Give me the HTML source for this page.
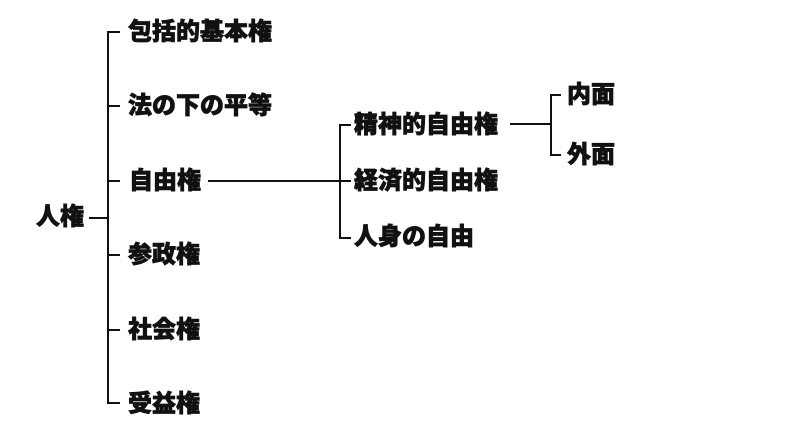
<!DOCTYPE html>
<html>
<head>
<meta charset="utf-8">
<style>
html,body{margin:0;padding:0;background:#fff;}
svg{display:block;}
text{font-family:"Liberation Sans","Noto Sans CJK JP","Noto Sans CJK SC",sans-serif;font-weight:900;font-size:24px;fill:#111;stroke:#111;stroke-width:0.7px;dominant-baseline:central;}
</style>
</head>
<body>
<svg width="800" height="442" viewBox="0 0 800 442" xmlns="http://www.w3.org/2000/svg">
<g stroke="#111" stroke-width="2" fill="none">
  <!-- root -->
  <line x1="89" y1="218" x2="108" y2="218"/>
  <line x1="108" y1="31.5" x2="108" y2="403.5"/>
  <line x1="107" y1="32" x2="120" y2="32"/>
  <line x1="108" y1="106" x2="120" y2="106"/>
  <line x1="108" y1="181" x2="120" y2="181"/>
  <line x1="108" y1="255" x2="120" y2="255"/>
  <line x1="108" y1="330" x2="120" y2="330"/>
  <line x1="107" y1="403" x2="120" y2="403"/>
  <!-- 自由権 branch -->
  <line x1="208" y1="181" x2="340" y2="181"/>
  <line x1="340" y1="124.5" x2="340" y2="238.5"/>
  <line x1="339" y1="125" x2="351" y2="125"/>
  <line x1="340" y1="181" x2="351" y2="181"/>
  <line x1="339" y1="238" x2="351" y2="238"/>
  <!-- 精神的自由権 branch -->
  <line x1="510" y1="124" x2="551" y2="124"/>
  <line x1="551" y1="94.5" x2="551" y2="155.5"/>
  <line x1="550" y1="95" x2="561" y2="95"/>
  <line x1="550" y1="155" x2="561" y2="155"/>
</g>
<text x="36" y="217">人権</text>
<text x="128" y="32">包括的基本権</text>
<text x="128" y="106">法の下の平等</text>
<text x="129" y="181">自由権</text>
<text x="128" y="255">参政権</text>
<text x="128" y="330">社会権</text>
<text x="128" y="404">受益権</text>
<text x="354" y="125">精神的自由権</text>
<text x="354" y="181">経済的自由権</text>
<text x="354" y="237">人身の自由</text>
<text x="567" y="95">内面</text>
<text x="567" y="155">外面</text>
</svg>
</body>
</html>
